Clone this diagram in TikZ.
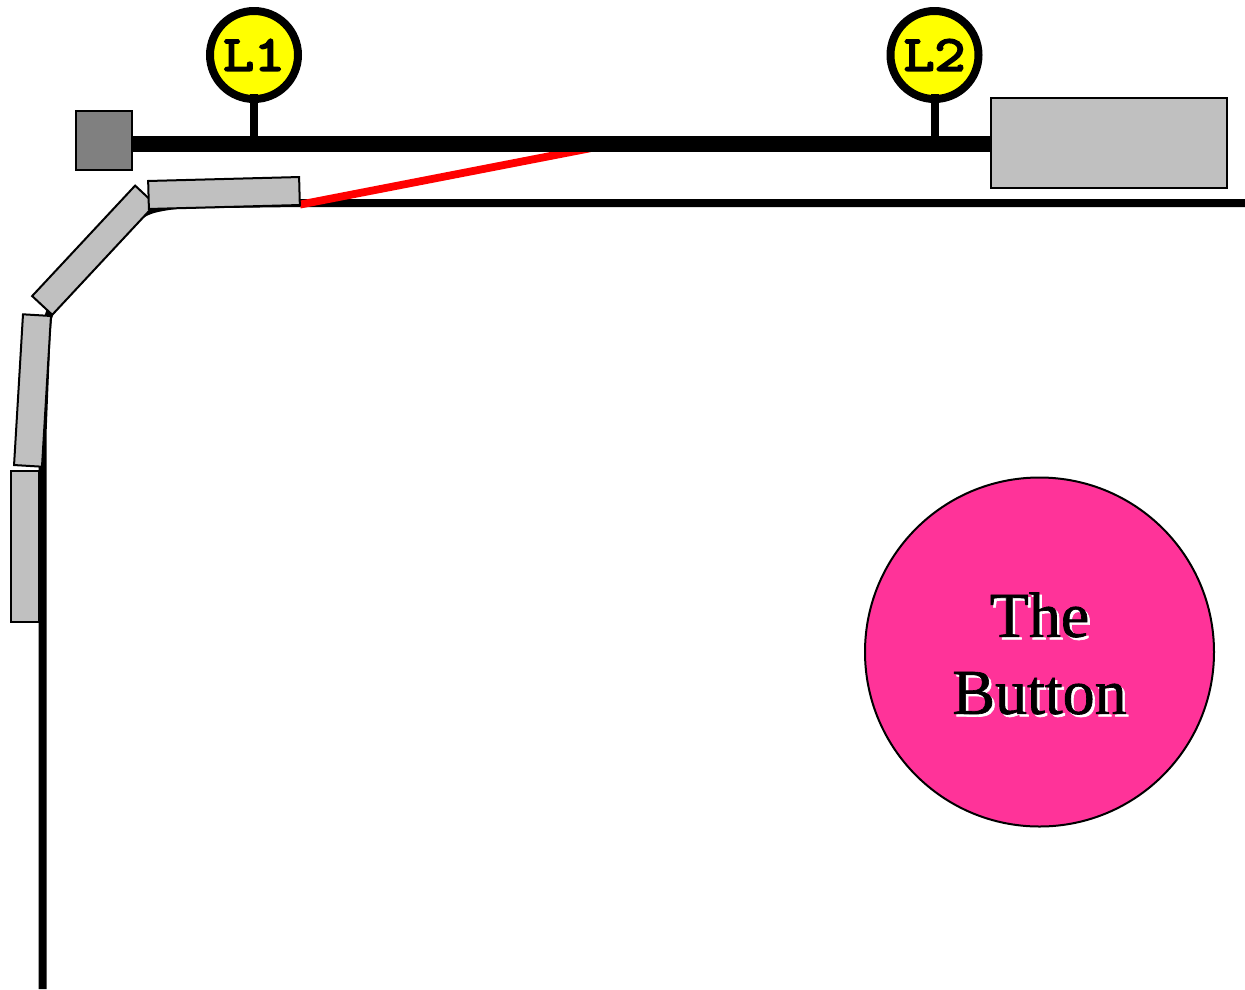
\documentclass[tikz,border=0pt]{standalone}
\usepackage{fontspec}
\setmainfont{Liberation Serif}
\newfontfamily\btnfont[FakeBold=1]{Liberation Serif}
\newfontfamily\lampfont[FakeBold=4,FakeStretch=1.2]{Latin Modern Mono}
\definecolor{panelgrey}{HTML}{C0C0C0}
\definecolor{darkgrey}{HTML}{808080}
\definecolor{lampyellow}{HTML}{FFFF00}
\definecolor{buttonpink}{HTML}{FF3399}
\tikzset{
  block/.style={draw=black,line width=2pt,fill=panelgrey,inner sep=0pt,outer sep=0pt,anchor=center},
  lamp/.style={circle,draw=black,line width=8pt,fill=lampyellow,minimum size=88pt,inner sep=0pt,outer sep=0pt,font=\lampfont\fontsize{50}{50}\selectfont},
  btntext/.style={align=center,inner sep=0pt,outer sep=0pt,font=\btnfont\fontsize{64}{77}\selectfont},
  track/.style={line width=8pt,draw=black}
}
\begin{document}
\begin{tikzpicture}[x=1pt,y=-1pt]
\useasboundingbox (0,0) rectangle (1245,989);
\fill[white] (0,0) rectangle (1245,989);
% wall and track
\coordinate (wallA) at (1245,203);
\coordinate (wallB) at (300,203);
\coordinate (wallC) at (178,204.5);
\coordinate (wallD) at (140,215.5);
\coordinate (wallE) at (50,312);
\coordinate (wallF) at (46.5,335);
\coordinate (wallG) at (42.7,430);
\coordinate (wallH) at (42.7,989);
\draw[track,line join=round] (wallA) -- (wallB) -- (wallC) .. controls (165,207) and (150,207.5) .. (wallD) -- (wallE) .. controls (48,316) .. (wallF) -- (wallG) -- (wallH);
% red link
\coordinate (redA) at (300,204.6);
\coordinate (redB) at (590,148.3);
\draw[red,line width=7.8pt] (redA) -- (redB);
% actuator bar
\node[block,fill=darkgrey,minimum width=56pt,minimum height=59pt] (plug) at (104,140.3) {};
\node[block,minimum width=236pt,minimum height=90pt] (motor) at (1109,143) {};
\draw[line width=16pt] (plug.east |- 0,144) coordinate (barL) -- (motor.west |- 0,144) coordinate (barR);
% lamps
\node[lamp] (L1) at (254,55) {L1};
\node[lamp] (L2) at (934.5,55) {L2};
\coordinate (stemA) at (254,144);
\coordinate (stemB) at (934.5,144);
\draw[line width=8pt,shorten <=-5pt] (L1.south) -- (stemA);
\draw[line width=8pt,shorten <=-5pt] (L2.south) -- (stemB);
% segments
\node[block,minimum width=151pt,minimum height=27.5pt,rotate=47] (seg2) at (93.7,250.2) {};
\node[block,minimum width=151pt,minimum height=28pt,rotate=1.5] (seg1) at (224,193) {};
\node[block,minimum width=151pt,minimum height=28pt,rotate=86.6] (seg3) at (32.5,390.5) {};
\node[block,minimum width=28pt,minimum height=151pt] (seg4) at (25,546.5) {};
% button
\node[circle,draw=black,line width=2pt,fill=buttonpink,minimum size=349pt,inner sep=0pt,outer sep=0pt] (btn) at (1039.5,652) {};
\node[btntext,text=white] (btnshadow) at (1042,656) {The\\Button};
\node[btntext,text=black] (btnlabel) at (1039.5,653.5) {The\\Button};
\end{tikzpicture}
\end{document}
